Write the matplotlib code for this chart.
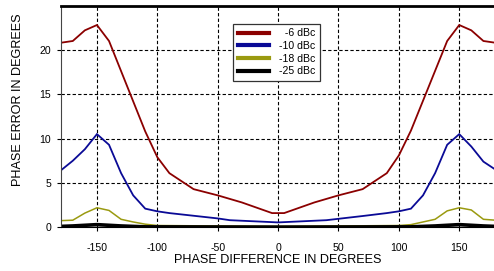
import numpy as np
import matplotlib
matplotlib.use('Agg')
import matplotlib.pyplot as plt

plt.rcParams['font.family'] = ['Liberation Sans', 'DejaVu Sans']
plt.rcParams['axes.unicode_minus'] = False

# phase difference (deg)
x_6 = [-180, -170, -160, -150, -140, -110, -100, -90, -70, -50, -30, -5,
       5, 30, 50, 70, 90, 100, 110, 140, 150, 160, 170, 180]
y_6 = [20.8, 21.0, 22.2, 22.8, 21.0, 10.8, 7.9, 6.1, 4.3, 3.6, 2.8, 1.6,
       1.6, 2.8, 3.6, 4.3, 6.1, 8.1, 10.9, 21.0, 22.8, 22.2, 21.0, 20.8]

x_10 = [-180, -170, -160, -150, -140, -130, -120, -110, -100, -90, -50, -40,
        0, 40, 70, 90, 100, 110, 120, 130, 140, 150, 160, 170, 180]
y_10 = [6.4, 7.5, 8.8, 10.5, 9.3, 6.1, 3.6, 2.1, 1.8, 1.6, 1.0, 0.8,
        0.55, 0.8, 1.27, 1.6, 1.8, 2.1, 3.6, 6.1, 9.3, 10.5, 9.1, 7.4, 6.5]

x_18 = [-180, -170, -160, -150, -140, -130, -120, -110, -100, 0,
        100, 110, 120, 130, 140, 150, 160, 170, 180]
y_18 = [0.75, 0.8, 1.6, 2.2, 1.9, 0.9, 0.6, 0.35, 0.2, 0.1,
        0.2, 0.3, 0.6, 0.9, 1.85, 2.2, 1.95, 0.9, 0.8]

x_25 = [-180, -170, -150, -130, -110, 0, 110, 130, 150, 170, 180]
y_25 = [0.1, 0.15, 0.3, 0.15, 0.05, 0.02, 0.05, 0.15, 0.3, 0.15, 0.1]

labels = ['\u2007-6 dBc', '-10 dBc', '-18 dBc', '-25 dBc']
colors = ['#8b0000', '#0a0a96', '#9a9a10', '#000000']

fig = plt.figure(figsize=(4.94, 2.71), dpi=100)
ax = fig.add_axes([0.1229, 0.1613, 0.8801, 0.8184])

series = [(x_6, y_6), (x_10, y_10), (x_18, y_18), (x_25, y_25)]
widths = [1.3, 1.3, 1.1, 2.6]
for (xs, ys), lab, c, lw in zip(series, labels, colors, widths):
    ax.plot(xs, ys, color=c, lw=lw, label=lab, solid_joinstyle='miter')

ax.set_xlim(-180, 180)
ax.set_ylim(0, 25)
ax.set_xticks([-150, -100, -50, 0, 50, 100, 150])
ax.set_yticks([0, 5, 10, 15, 20])
ax.grid(True, color='black', linestyle=(0, (3, 2)), lw=0.8)
ax.tick_params(direction='out', length=3, width=0.8, labelsize=7.6, pad=8,
               colors='black')
ax.tick_params(axis='y', pad=4)
ax.spines['top'].set_linewidth(2)
ax.spines['right'].set_visible(False)
ax.spines['left'].set_color('#444444')
ax.spines['left'].set_linewidth(0.8)
ax.spines['bottom'].set_linewidth(0.8)

ax.set_xlabel('PHASE DIFFERENCE IN DEGREES', fontsize=9.1, labelpad=1)
ax.set_ylabel('PHASE ERROR IN DEGREES', fontsize=9.1)
ax.yaxis.set_label_coords(-0.085, 0.575)

leg = ax.legend(loc='upper left', bbox_to_anchor=(0.396, 0.918), fontsize=7.6,
                frameon=True, fancybox=False, edgecolor='#333333',
                framealpha=1, handlelength=3.0, handletextpad=0.95,
                labelspacing=0.25, borderpad=0.45, borderaxespad=0)
leg.get_frame().set_linewidth(0.9)
for h in leg.legend_handles:
    h.set_linewidth(3)

fig.savefig('out.png', dpi=100)
